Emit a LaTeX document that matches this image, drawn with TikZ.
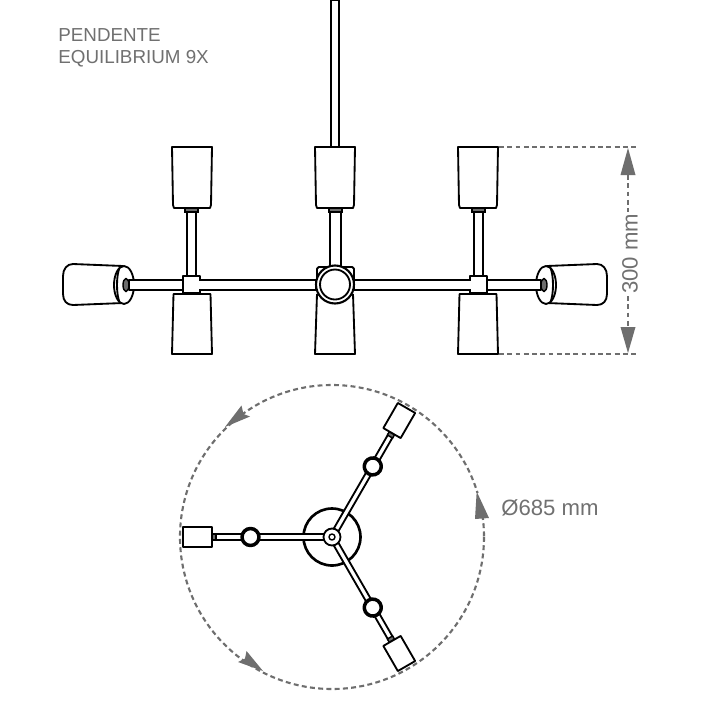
\documentclass[tikz,border=0pt]{standalone}
\usepackage{fontspec}
\setmainfont{Liberation Sans}
\usepackage{tikz}
\definecolor{dimgray}{HTML}{6E6E6E}
\definecolor{textgray}{HTML}{707070}
\tikzset{
  lamp/.style={draw=black, fill=white, line width=1.05pt, line join=round},
  collar/.style={draw=black, fill=dimgray, line width=0.8pt},
  dimline/.style={draw=dimgray, line width=1.2pt, dash pattern=on 2.8pt off 1.9pt},
  dimtip/.style={fill=dimgray},
  label/.style={text=textgray, inner sep=0pt}
}
\begin{document}
\begin{tikzpicture}[x=0.02cm, y=-0.02cm]
\useasboundingbox (0,0) rectangle (704,704);
\fill[white] (0,0) rectangle (704,704);
% title
\node[label, anchor=base west, font=\fontsize{10.7pt}{13pt}\selectfont] (title1) at (58,41) {PENDENTE};
\node[label, anchor=base west, font=\fontsize{10.7pt}{13pt}\selectfont] (title2) at (58,63) {EQUILIBRIUM 9X};
% rod
\draw[lamp] (331,0) rectangle (339,147);
% side view
\draw[lamp] (317,294) -- (315,354) -- (355,354) -- (353,294);
\foreach \side in {1,-1} {
  \begin{scope}[shift={(335,0)}, xscale=\side]
    \draw[lamp] (-163,147) -- (-162,205) -- (-161,208) -- (-125,208) -- (-124,205) -- (-123,147) -- cycle;
    \draw[lamp] (-161.5,294) -- (-163,354) -- (-123,354) -- (-124.5,294) -- cycle;
    \draw[lamp] (-148,212) rectangle (-139,276);
    \draw[collar] (-150,208) rectangle (-137,212);
    \draw[lamp] (-212,266) -- (-262,264) .. controls (-268,264) and (-272,269) .. (-272,276)
      -- (-272,294) .. controls (-272,301) and (-268,305) .. (-262,305) -- (-212,303);
    \draw[lamp] (-211,285) ellipse (10 and 19);
    \draw[lamp] (-215,267) .. controls (-219,274) and (-219,296) .. (-215,303);
    \draw[collar] (-209,285) ellipse (3 and 6.5);
    \draw[lamp] (-206,280) rectangle (-19,290);
    \draw[lamp] (-152,276) rectangle (-135,293);
    \fill[white] (-136,281) rectangle (-133,289);
  \end{scope}
}
\draw[lamp] (330,212) rectangle (341,268);
\draw[collar] (329,208) rectangle (342,212);
\draw[lamp] (315,147) -- (316,205) -- (317,208) -- (353,208) -- (354,205) -- (355,147) -- cycle;
\draw[lamp, rounded corners=1pt] (317,267) rectangle (354,284);
\draw[lamp, line width=1.2pt] (335,284.5) circle (19);
\draw[lamp] (335,284.5) circle (15);
% height dimension
\draw[dimline] (499,147) -- (638,147);
\draw[dimline] (499,354) -- (638,354);
\draw[dimline] (628,175) -- (628,212);
\draw[dimline] (628,296) -- (628,327);
\fill[dimtip] (628,148) -- (635.5,175) -- (620.5,175) -- cycle;
\fill[dimtip] (628,353) -- (635.5,327) -- (620.5,327) -- cycle;
\node[label, rotate=90, font=\fontsize{12.6pt}{15pt}\selectfont] (height) at (630,254) {300 mm};
% top view
\coordinate (hub) at (332,537);
\draw[dimline] (hub) circle (152);
\fill[dimtip] (225,427) -- (241.5,405.5) -- (243.5,414) -- (250,416.5) -- cycle;
\fill[dimtip] (263,671) -- (238,662) -- (245,658.5) -- (246.5,651) -- cycle;
\fill[white] (475,493) rectangle (489,517);
\fill[dimtip] (476.7,491.5) -- (489,518) -- (475,519) -- cycle;
\draw[lamp, line width=1.5pt] (hub) circle (28.5);
\foreach \ang in {180,60,-60} {
  \begin{scope}[shift={(hub)}, rotate=\ang]
    \draw[lamp] (8,-2.7) rectangle (118,2.7);
    \draw[collar] (116,-3) rectangle (120,3);
    \draw[lamp] (120,-10) rectangle (149,10);
    \draw[lamp, line width=2pt] (81.5,0) circle (8.5);
  \end{scope}
}
\draw[lamp] (hub) circle (8.5);
\draw[lamp, line width=0.8pt] (hub) circle (3);
\node[label, anchor=base west, font=\fontsize{12.6pt}{15pt}\selectfont] (diameter) at (501,515) {Ø685 mm};
\end{tikzpicture}
\end{document}
